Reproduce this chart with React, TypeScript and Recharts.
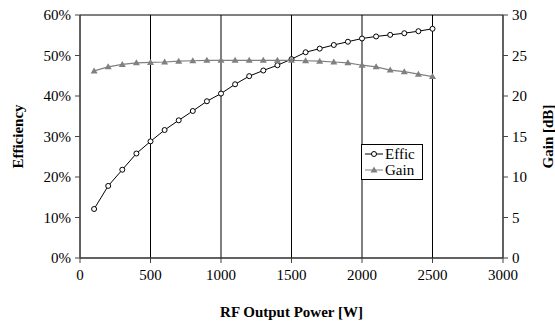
import React from 'react';
import { LineChart, Line, XAxis, YAxis, CartesianGrid, Legend } from 'recharts';

const power = [100, 200, 300, 400, 500, 600, 700, 800, 900, 1000, 1100, 1200, 1300, 1400, 1500, 1600, 1700, 1800, 1900, 2000, 2100, 2200, 2300, 2400, 2500];
const efficiency = [12.1, 17.8, 21.8, 25.8, 28.8, 31.6, 34.0, 36.3, 38.7, 40.6, 42.9, 44.9, 46.3, 47.6, 49.1, 50.8, 51.7, 52.6, 53.4, 54.2, 54.7, 55.1, 55.5, 56.0, 56.6];
const gain = [23.1, 23.6, 23.9, 24.1, 24.15, 24.2, 24.3, 24.35, 24.4, 24.4, 24.4, 24.4, 24.4, 24.4, 24.4, 24.35, 24.3, 24.2, 24.1, 23.8, 23.6, 23.2, 23.0, 22.7, 22.4];
const xTicks = [0, 500, 1000, 1500, 2000, 2500, 3000];
const effTicks = [0, 10, 20, 30, 40, 50, 60];
const gainTicks = [0, 5, 10, 15, 20, 25, 30];

const data = power.map((p, i) => ({ power: p, effic: efficiency[i], gain: gain[i] }));

const font = '"Liberation Serif", "Times New Roman", serif';
const tickStyle = { fontSize: 15, fill: '#000', fontFamily: font };

const Triangle = (props: any) => {
  const { cx, cy, index } = props;
  return (
    <path
      key={`tri-${index}`}
      d={`M${cx},${cy - 3.5}L${cx + 3.5},${cy + 2.5}L${cx - 3.5},${cy + 2.5}Z`}
      fill="#808080"
    />
  );
};

const renderLegend = () => (
  <div
    style={{
      border: '1px solid #000',
      background: '#fff',
      fontFamily: font,
      fontSize: 15,
      padding: '1px 3px',
      lineHeight: '16px',
      width: 54,
    }}
  >
    <div style={{ display: 'flex', alignItems: 'center' }}>
      <svg width={18} height={10} style={{ marginRight: 2 }}>
        <line x1={0} y1={5} x2={18} y2={5} stroke="#000" />
        <circle cx={9} cy={5} r={2.5} fill="#fff" stroke="#000" />
      </svg>
      Effic
    </div>
    <div style={{ display: 'flex', alignItems: 'center' }}>
      <svg width={18} height={10} style={{ marginRight: 2 }}>
        <line x1={0} y1={5} x2={18} y2={5} stroke="#808080" />
        <path d="M9,1.5L12.5,7.5L5.5,7.5Z" fill="#808080" />
      </svg>
      Gain
    </div>
  </div>
);

const sideLabel = (text: string, dxFromLeft: number) => (props: any) => {
  const vb = props.viewBox || {};
  const x = (vb.x ?? 0) + dxFromLeft;
  const y = (vb.y ?? 0) + (vb.height ?? 0) / 2;
  return (
    <text
      x={x}
      y={y}
      transform={`rotate(-90 ${x} ${y})`}
      textAnchor="middle"
      dominantBaseline="central"
      style={{ fontFamily: font, fontSize: 15, fontWeight: 'bold', fill: '#000' }}
    >
      {text}
    </text>
  );
};

const bottomLabel = (props: any) => {
  const vb = props.viewBox || {};
  const x = (vb.x ?? 0) + (vb.width ?? 0) / 2;
  const y = (vb.y ?? 0) + 54;
  return (
    <text
      x={x}
      y={y}
      textAnchor="middle"
      dominantBaseline="central"
      style={{ fontFamily: font, fontSize: 15, fontWeight: 'bold', fill: '#000' }}
    >
      RF Output Power [W]
    </text>
  );
};

export default function App() {
  return (
    <div style={{ position: 'absolute', left: 0, top: 0, width: 555, height: 325, background: '#fff' }}>
      <LineChart width={555} height={325} data={data} margin={{ top: 15, right: 0, bottom: 0, left: 0 }}>
        <CartesianGrid stroke="#000" strokeWidth={1} />
        <XAxis
          dataKey="power"
          type="number"
          domain={[0, 3000]}
          ticks={xTicks}
          interval={0}
          height={67}
          stroke="#444"
          tickSize={5}
          tick={tickStyle}
          tickMargin={6}
          label={{ content: bottomLabel }}
        />
        <YAxis
          yAxisId="eff"
          orientation="left"
          domain={[0, 60]}
          ticks={effTicks}
          interval={0}
          width={80}
          stroke="#444"
          tickSize={5}
          tickMargin={4}
          tick={tickStyle}
          tickFormatter={(v: number) => `${v}%`}
          label={{ content: sideLabel('Efficiency', 18) }}
        />
        <YAxis
          yAxisId="gain"
          orientation="right"
          domain={[0, 30]}
          ticks={gainTicks}
          interval={0}
          width={52}
          stroke="#444"
          tickSize={5}
          tickMargin={4}
          tick={tickStyle}
          label={{ content: sideLabel('Gain [dB]', 45) }}
        />
        <Legend
          layout="horizontal"
          align="center"
          verticalAlign="middle"
          content={renderLegend}
          wrapperStyle={{ position: 'absolute', left: 361, top: 144, width: 62, height: 'auto' }}
        />
        <Line
          yAxisId="eff"
          dataKey="effic"
          name="Effic"
          stroke="#000"
          strokeWidth={1}
          dot={{ r: 2.5, fill: '#fff', stroke: '#000', strokeWidth: 1 }}
          isAnimationActive={false}
        />
        <Line
          yAxisId="gain"
          dataKey="gain"
          name="Gain"
          stroke="#808080"
          strokeWidth={1.2}
          dot={Triangle}
          isAnimationActive={false}
        />
      </LineChart>
    </div>
  );
}
